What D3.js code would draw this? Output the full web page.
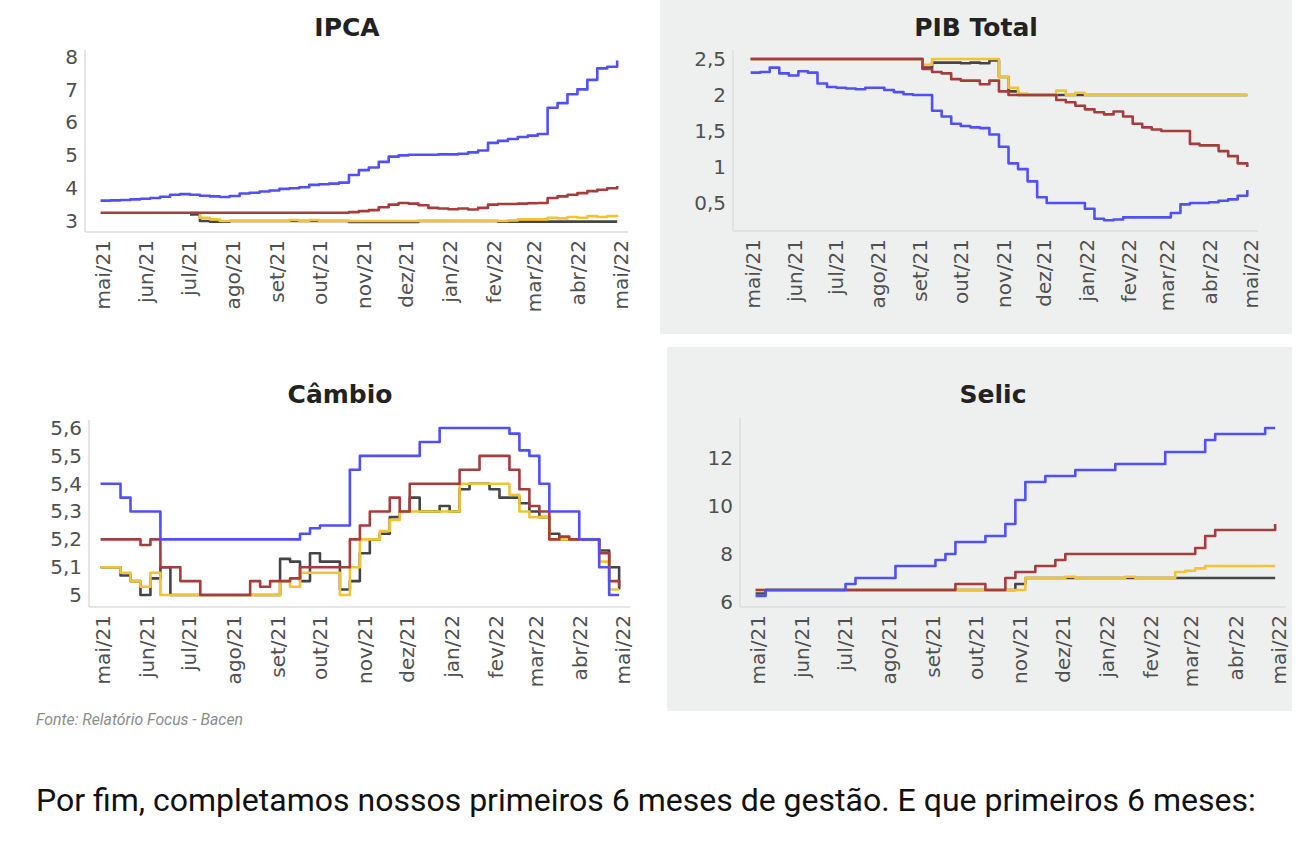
<!DOCTYPE html>
<html>
<head>
<meta charset="utf-8">
<title>Relatório Focus</title>
<script src="https://cdn.jsdelivr.net/npm/d3@7"></script>
<style>
  body { margin: 0; background: #fff; }
  svg { display: block; }
  .title { font-family: 'DejaVu Sans', sans-serif; font-weight: bold; font-size: 25px; fill: #222; text-anchor: middle; }
  .tick text { font-family: 'DejaVu Sans', sans-serif; font-size: 20px; fill: #505050; }
  .axisLine { stroke: #dcdcdc; stroke-width: 1.5; }
  .series { fill: none; stroke-width: 2.6; stroke-linejoin: round; }
  .fonte { font-family: Roboto, sans-serif; font-style: italic; font-size: 15.8px; fill: #8c8c8c; }
  .texto { font-family: Roboto, sans-serif; font-size: 32px; fill: #111; }
</style>
</head>
<body>
<svg id="chart" width="1310" height="857"></svg>
<script>
// weekly Focus readings (Fridays), 30/abr/21 .. 29/abr/22
const weeks = d3.timeFriday.range(new Date(2021, 3, 30), new Date(2022, 4, 1));
const monthTicks = d3.timeMonth.range(new Date(2021, 4, 1), new Date(2022, 4, 2));
const monthLabels = ["mai/21","jun/21","jul/21","ago/21","set/21","out/21","nov/21","dez/21","jan/22","fev/22","mar/22","abr/22","mai/22"];

const seriesColors = { blue: "#5050fa", red: "#a63c3c", yellow: "#f2c335", black: "#454545" };

// IPCA
const ipcaTicks = [3, 4, 5, 6, 7, 8];
const ipcaBlue = [3.62,3.63,3.64,3.66,3.68,3.70,3.74,3.80,3.82,3.80, 3.77,3.75,3.73,3.76,3.84,3.86,3.90,3.93,3.98,4.00, 4.03,4.10,4.12,4.14,4.17,4.40,4.55,4.63,4.80,4.96, 5.00,5.02,5.02,5.02,5.03,5.03,5.05,5.09,5.15,5.38, 5.44,5.50,5.56,5.60,5.65,6.45,6.59,6.86,7.01,7.30, 7.65,7.70,7.89];
const ipcaRed = [3.25,3.25,3.25,3.25,3.25,3.25,3.25,3.25,3.25,3.25, 3.25,3.25,3.25,3.25,3.25,3.25,3.25,3.25,3.25,3.25, 3.25,3.25,3.25,3.25,3.25,3.27,3.30,3.33,3.42,3.50, 3.55,3.53,3.48,3.40,3.38,3.36,3.38,3.35,3.40,3.50, 3.52,3.52,3.53,3.54,3.55,3.70,3.75,3.80,3.85,3.91, 3.95,4.00,4.07];
const ipcaYellow = [null,null,null,null,null,null,null,null,null,3.25, 3.10,3.05,3.00,3.00,3.00,3.00,3.00,3.00,3.00,3.03, 3.00,3.03,3.00,3.00,3.00,3.00,3.00,3.00,3.00,3.00, 3.00,3.00,3.00,3.00,3.00,3.00,3.00,3.00,3.00,3.00, 3.00,3.02,3.05,3.05,3.05,3.10,3.08,3.12,3.10,3.15, 3.12,3.15,3.12];
const ipcaBlack = [null,null,null,null,null,null,null,null,null,3.20, 3.00,2.98,2.98,3.00,3.00,3.00,3.00,3.00,3.00,3.00, 3.00,3.00,3.00,3.00,3.00,2.97,2.97,2.97,2.97,2.97, 2.97,2.97,3.00,3.00,3.00,3.00,3.00,3.00,3.00,3.00, 2.98,2.98,2.98,2.98,2.98,2.98,2.98,2.98,2.98,2.98, 2.98,2.98,2.98];

// PIB Total
const pibTicks = [0.5, 1, 1.5, 2, 2.5];
const pibBlue = [2.31,2.32,2.38,2.30,2.27,2.33,2.31,2.16,2.11,2.10, 2.09,2.08,2.10,2.10,2.07,2.04,2.01,2.00,2.00,1.78, 1.70,1.60,1.57,1.55,1.54,1.45,1.28,1.05,0.97,0.80, 0.58,0.50,0.50,0.50,0.50,0.42,0.28,0.26,0.27,0.30, 0.30,0.30,0.30,0.30,0.36,0.48,0.50,0.50,0.51,0.53, 0.55,0.60,0.68];
const pibRed = [2.50,2.50,2.50,2.50,2.50,2.50,2.50,2.50,2.50,2.50, 2.50,2.50,2.50,2.50,2.50,2.50,2.50,2.50,2.36,2.32, 2.30,2.22,2.20,2.20,2.15,2.20,2.05,2.00,2.00,2.00, 2.00,2.00,1.93,1.90,1.85,1.80,1.76,1.73,1.77,1.70, 1.60,1.55,1.52,1.50,1.50,1.50,1.32,1.30,1.30,1.22, 1.15,1.05,1.00];
const pibYellow = [2.50,2.50,2.50,2.50,2.50,2.50,2.50,2.50,2.50,2.50, 2.50,2.50,2.50,2.50,2.50,2.50,2.50,2.50,2.42,2.50, 2.50,2.50,2.50,2.50,2.50,2.50,2.25,2.10,2.02,2.00, 2.00,2.00,2.06,2.00,2.03,2.00,2.00,2.00,2.00,2.00, 2.00,2.00,2.00,2.00,2.00,2.00,2.00,2.00,2.00,2.00, 2.00,2.00,2.00];
const pibBlack = [2.50,2.50,2.50,2.50,2.50,2.50,2.50,2.50,2.50,2.50, 2.50,2.50,2.50,2.50,2.50,2.50,2.50,2.50,2.38,2.45, 2.45,2.45,2.44,2.45,2.44,2.48,2.25,2.05,2.00,2.00, 2.00,2.00,2.00,2.00,2.00,2.00,2.00,2.00,2.00,2.00, 2.00,2.00,2.00,2.00,2.00,2.00,2.00,2.00,2.00,2.00, 2.00,2.00,2.00];

// Câmbio
const cambioTicks = [5, 5.1, 5.2, 5.3, 5.4, 5.5, 5.6];
const cambioBlue = [5.40,5.40,5.35,5.30,5.30,5.30,5.20,5.20,5.20,5.20, 5.20,5.20,5.20,5.20,5.20,5.20,5.20,5.20,5.20,5.20, 5.22,5.24,5.25,5.25,5.25,5.45,5.50,5.50,5.50,5.50, 5.50,5.50,5.55,5.55,5.60,5.60,5.60,5.60,5.60,5.60, 5.60,5.58,5.52,5.50,5.40,5.30,5.30,5.30,5.20,5.20, 5.10,5.00,5.00];
const cambioRed = [5.20,5.20,5.20,5.20,5.18,5.20,5.10,5.10,5.05,5.05, 5.00,5.00,5.00,5.00,5.00,5.05,5.03,5.05,5.05,5.06, 5.10,5.10,5.10,5.10,5.10,5.20,5.25,5.30,5.30,5.35, 5.30,5.40,5.40,5.40,5.40,5.40,5.45,5.45,5.50,5.50, 5.50,5.45,5.38,5.32,5.30,5.20,5.21,5.20,5.20,5.20, 5.15,5.05,5.03];
const cambioYellow = [5.10,5.10,5.08,5.05,5.03,5.08,5.00,5.00,5.00,5.00, 5.00,5.00,5.00,5.00,5.00,5.00,5.00,5.00,5.05,5.03, 5.08,5.08,5.08,5.08,5.00,5.10,5.20,5.20,5.23,5.27, 5.30,5.30,5.30,5.30,5.30,5.30,5.40,5.40,5.40,5.40, 5.40,5.36,5.30,5.28,5.28,5.20,5.20,5.20,5.20,5.20, 5.12,5.02,5.02];
const cambioBlack = [5.10,5.10,5.07,5.05,5.00,5.06,5.10,5.00,5.00,5.00, 5.00,5.00,5.00,5.00,5.00,5.00,5.00,5.00,5.13,5.12, 5.05,5.15,5.12,5.12,5.02,5.05,5.15,5.20,5.22,5.28, 5.30,5.35,5.30,5.30,5.32,5.30,5.38,5.40,5.40,5.38, 5.35,5.35,5.33,5.30,5.28,5.22,5.20,5.20,5.20,5.20, 5.16,5.10,5.02];

// Selic
const selicTicks = [6, 8, 10, 12];
const selicBlue = [6.25,6.50,6.50,6.50,6.50,6.50,6.50,6.50,6.50,6.75, 7.00,7.00,7.00,7.00,7.50,7.50,7.50,7.50,7.75,8.00, 8.50,8.50,8.50,8.75,8.75,9.25,10.25,11.00,11.00,11.25, 11.25,11.25,11.50,11.50,11.50,11.50,11.75,11.75,11.75,11.75, 11.75,12.25,12.25,12.25,12.25,12.75,13.00,13.00,13.00,13.00, 13.00,13.25,13.25];
const selicRed = [6.50,6.50,6.50,6.50,6.50,6.50,6.50,6.50,6.50,6.50, 6.50,6.50,6.50,6.50,6.50,6.50,6.50,6.50,6.50,6.50, 6.75,6.75,6.75,6.50,6.50,7.00,7.25,7.25,7.50,7.50, 7.75,8.00,8.00,8.00,8.00,8.00,8.00,8.00,8.00,8.00, 8.00,8.00,8.00,8.00,8.25,8.75,9.00,9.00,9.00,9.00, 9.00,9.00,9.25];
const selicYellow = [6.50,6.50,6.50,6.50,6.50,6.50,6.50,6.50,6.50,6.50, 6.50,6.50,6.50,6.50,6.50,6.50,6.50,6.50,6.50,6.50, 6.50,6.50,6.50,6.50,6.50,6.50,6.50,7.00,7.00,7.00, 7.00,7.05,7.00,7.00,7.00,7.00,7.00,7.05,7.00,7.00, 7.00,7.00,7.25,7.30,7.40,7.50,7.50,7.50,7.50,7.50, 7.50,7.50,7.50];
const selicBlack = [6.35,6.50,6.50,6.50,6.50,6.50,6.50,6.50,6.50,6.50, 6.50,6.50,6.50,6.50,6.50,6.50,6.50,6.50,6.50,6.50, 6.50,6.50,6.50,6.50,6.50,6.50,6.75,7.00,7.00,7.00, 7.00,7.00,7.00,7.00,7.00,7.00,7.00,7.00,7.00,7.00, 7.00,7.00,7.00,7.00,7.00,7.00,7.00,7.00,7.00,7.00, 7.00,7.00,7.00];

const ptBR = d3.formatLocale({ decimal: ",", thousands: ".", grouping: [3], currency: ["R$", ""] });
const fmt = ptBR.format("~g");

const svg = d3.select("#chart");

// grey boxes behind the right-hand charts
svg.append("rect").attr("x", 660).attr("y", 0).attr("width", 632).attr("height", 334).attr("fill", "#eef0ef");
svg.append("rect").attr("x", 667).attr("y", 347).attr("width", 625).attr("height", 364).attr("fill", "#eef0ef");

function drawPanel(p) {
  const x = d3.scaleTime().domain([monthTicks[0], monthTicks[12]]).range(p.xRange);
  const y = d3.scaleLinear().domain(p.yDomain).range(p.yRange);
  const g = svg.append("g");

  g.append("text").attr("class", "title").attr("x", p.titleX).attr("y", p.titleY).text(p.title);

  // axis lines
  g.append("line").attr("class", "axisLine")
    .attr("x1", p.axisX).attr("x2", p.axisX).attr("y1", p.yRange[1]).attr("y2", p.yRange[0]);
  g.append("line").attr("class", "axisLine")
    .attr("x1", p.axisX).attr("x2", p.xRange[1] + 8).attr("y1", p.yRange[0]).attr("y2", p.yRange[0]);

  const yAxis = g.append("g").attr("transform", `translate(${p.axisX},0)`)
    .call(d3.axisLeft(y).tickValues(p.ticks).tickSize(0).tickPadding(7).tickFormat(fmt));
  yAxis.select(".domain").remove();

  const xAxis = g.append("g").attr("transform", `translate(0,${p.yRange[0]})`)
    .call(d3.axisBottom(x).tickValues(monthTicks).tickSize(0).tickFormat((d, i) => monthLabels[i]));
  xAxis.select(".domain").remove();
  xAxis.selectAll("text")
    .attr("transform", "rotate(-90)")
    .attr("text-anchor", "end")
    .attr("x", -8).attr("y", 0).attr("dy", "0.35em");

  const line = d3.line()
    .defined(d => d[1] != null)
    .x(d => x(d[0]))
    .y(d => y(d[1]))
    .curve(d3.curveStepAfter);

  p.series.forEach(s => {
    g.append("path").attr("class", "series")
      .attr("stroke", seriesColors[s.color])
      .attr("d", line(weeks.map((w, i) => [w, s.values[i]])));
  });
}

const panels = [
  { title: "IPCA", titleX: 347, titleY: 36, axisX: 85, xRange: [102, 620], yDomain: [2.665, 8.21], yRange: [232, 50], ticks: ipcaTicks,
    series: [{ color: "black", values: ipcaBlack }, { color: "yellow", values: ipcaYellow }, { color: "red", values: ipcaRed }, { color: "blue", values: ipcaBlue }] },
  { title: "PIB Total", titleX: 976, titleY: 36, axisX: 733, xRange: [752, 1250], yDomain: [0.11, 2.625], yRange: [231, 50], ticks: pibTicks,
    series: [{ color: "black", values: pibBlack }, { color: "yellow", values: pibYellow }, { color: "red", values: pibRed }, { color: "blue", values: pibBlue }] },
  { title: "Câmbio", titleX: 340, titleY: 403, axisX: 89, xRange: [102, 622], yDomain: [4.957, 5.629], yRange: [607, 420], ticks: cambioTicks,
    series: [{ color: "black", values: cambioBlack }, { color: "yellow", values: cambioYellow }, { color: "red", values: cambioRed }, { color: "blue", values: cambioBlue }] },
  { title: "Selic", titleX: 993, titleY: 403, axisX: 740, xRange: [757, 1278], yDomain: [5.79, 13.67], yRange: [607, 418], ticks: selicTicks,
    series: [{ color: "black", values: selicBlack }, { color: "yellow", values: selicYellow }, { color: "red", values: selicRed }, { color: "blue", values: selicBlue }] }
];

panels.forEach(drawPanel);

svg.append("text").attr("class", "fonte").attr("x", 36).attr("y", 725).text("Fonte: Relatório Focus - Bacen");
svg.append("text").attr("class", "texto").attr("x", 36).attr("y", 811)
  .text("Por fim, completamos nossos primeiros 6 meses de gestão. E que primeiros 6 meses:");
</script>
</body>
</html>
